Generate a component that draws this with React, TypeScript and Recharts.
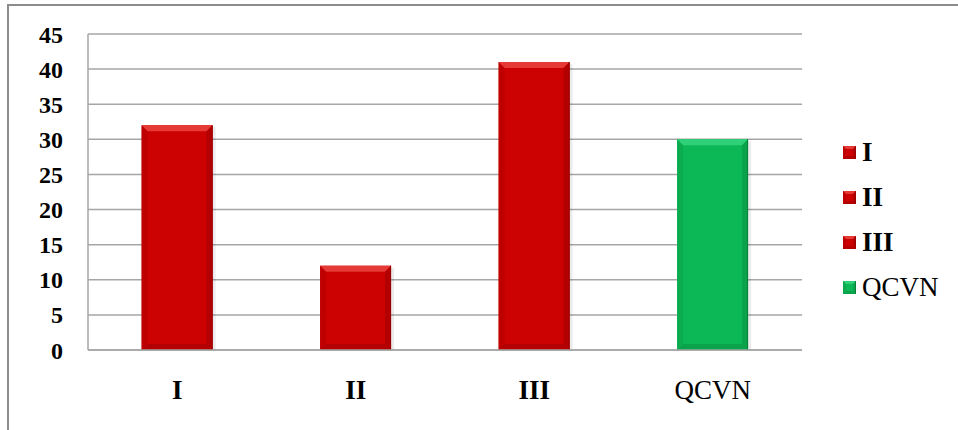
import React from 'react';
import { Bar, BarChart, CartesianGrid, Cell, XAxis, YAxis } from 'recharts';

const categories = ['I', 'II', 'III', 'QCVN'];
const values = [32, 12, 41, 30];
const yTicks = [0, 5, 10, 15, 20, 25, 30, 35, 40, 45];
const boldLabels = ['I', 'II', 'III'];

// face / top-bevel / bottom-bevel / edge tones per category
const palette: Record<string, { base: string; light: string; dark: string; edge: string }> = {
    I: { base: '#cc0202', light: '#e63a36', dark: '#b30000', edge: '#9a0000' },
    II: { base: '#cc0202', light: '#e63a36', dark: '#b30000', edge: '#9a0000' },
    III: { base: '#cc0202', light: '#e63a36', dark: '#b30000', edge: '#9a0000' },
    QCVN: { base: '#0cb855', light: '#2fd078', dark: '#0aa24a', edge: '#07803a' },
};

const data = categories.map((name, i) => ({ name, value: values[i] }));

const FONT = 'Liberation Serif, serif';

const bevelParts = (x: number, y: number, w: number, h: number, b: number, c: typeof palette.I) => (
    <>
        <rect x={x} y={y} width={w} height={h} fill={c.base} />
        <polygon points={`${x},${y} ${x + w},${y} ${x + w - b},${y + b} ${x + b},${y + b}`} fill={c.light} />
        <polygon points={`${x},${y} ${x + b},${y + b} ${x + b},${y + h - b} ${x},${y + h}`} fill={c.dark} opacity={0.55} />
        <polygon points={`${x + w},${y} ${x + w},${y + h} ${x + w - b},${y + h - b} ${x + w - b},${y + b}`} fill={c.dark} />
        <polygon points={`${x},${y + h} ${x + b},${y + h - b} ${x + w - b},${y + h - b} ${x + w},${y + h}`} fill={c.dark} />
        <rect x={x + w - 1} y={y} width={1} height={h} fill={c.edge} />
    </>
);

const BevelBar = (props: any) => {
    const { x, y, width, height, payload } = props;
    if (!height || height <= 0) return null;
    const c = palette[payload.name];
    return (
        <g>
            <rect x={x + width} y={y + 2} width={3} height={height - 2} fill="#000" opacity={0.08} />
            {bevelParts(x, y, width, height, 6, c)}
        </g>
    );
};

const CategoryTick = (props: any) => {
    const { x, y, payload } = props;
    return (
        <text
            x={x}
            y={y}
            dy="0.71em"
            textAnchor="middle"
            fill="#000"
            fontFamily={FONT}
            fontSize={27}
            fontWeight={boldLabels.includes(payload.value) ? 700 : 400}
        >
            {payload.value}
        </text>
    );
};

const ValueTick = (props: any) => {
    const { x, y, payload } = props;
    return (
        <text x={x} y={y} dy="0.355em" textAnchor="end" fill="#000" fontFamily={FONT} fontSize={24} fontWeight={700}>
            {payload.value}
        </text>
    );
};

const BevelLegend = () => (
    <div style={{ position: 'absolute', left: 843, top: 130, fontFamily: FONT, fontSize: 27 }}>
        {categories.map((name) => (
            <div key={name} style={{ display: 'flex', alignItems: 'center', height: 45 }}>
                <svg width={13} height={13} style={{ marginRight: 6 }}>
                    {bevelParts(0, 0, 13, 13, 3, palette[name])}
                </svg>
                <span style={{ fontWeight: boldLabels.includes(name) ? 700 : 400, color: '#000' }}>{name}</span>
            </div>
        ))}
    </div>
);

export default function App() {
    return (
        <div style={{ position: 'absolute', left: 0, top: 0, width: 958, height: 430, background: '#fff', overflow: 'hidden' }}>
            <div
                style={{
                    position: 'absolute',
                    left: 7,
                    top: 4,
                    width: 960,
                    height: 440,
                    borderTop: '2px solid #8c8c8c',
                    borderLeft: '2px solid #8c8c8c',
                }}
            />
            <BarChart
                width={958}
                height={430}
                data={data}
                margin={{ top: 34, right: 156, bottom: 50, left: 0 }}
                barCategoryGap="30%"
                style={{ position: 'absolute', left: 0, top: 0 }}
            >
                <CartesianGrid vertical={false} stroke="#a6a6a6" strokeWidth={1.5} />
                <XAxis
                    dataKey="name"
                    height={30}
                    axisLine={{ stroke: '#a6a6a6', strokeWidth: 1.5 }}
                    tickLine={false}
                    tickSize={0}
                    tickMargin={30}
                    tick={<CategoryTick />}
                    interval={0}
                />
                <YAxis
                    width={88}
                    domain={[0, 45]}
                    ticks={yTicks}
                    interval={0}
                    axisLine={{ stroke: '#a6a6a6', strokeWidth: 1.5 }}
                    tickLine={false}
                    tickSize={0}
                    tickMargin={25}
                    tick={<ValueTick />}
                />
                <Bar dataKey="value" isAnimationActive={false} shape={<BevelBar />}>
                    {data.map((d) => (
                        <Cell key={d.name} fill={palette[d.name].base} />
                    ))}
                </Bar>
            </BarChart>
            <BevelLegend />
        </div>
    );
}
